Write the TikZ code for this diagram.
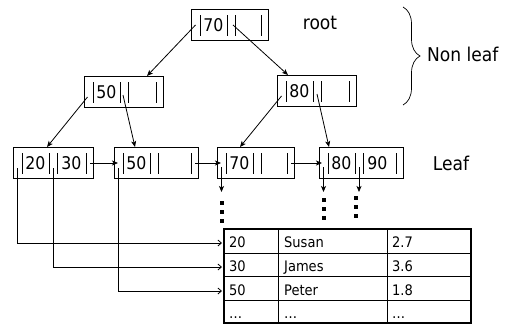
\documentclass[tikz,border=0pt]{standalone}
\usepackage{fontspec}
\setmainfont{DejaVu Sans Condensed}
\usetikzlibrary{arrows.meta,decorations.pathreplacing,calc}
\tikzset{
  bbox/.style={draw, line width=0.9pt, inner sep=0pt, anchor=north west, minimum height=31pt},
  bar/.style={line width=1.0pt},
  keytext/.style={inner sep=0pt, font=\fontsize{17.5}{19}\selectfont},
  lbl/.style={inner sep=0pt, font=\fontsize{19}{21}\selectfont},
  cell/.style={inner sep=0pt, anchor=base west, font=\fontsize{14.5}{16}\selectfont},
  ptr/.style={line width=0.8pt, -{Stealth[length=6pt,width=5pt,inset=1.5pt]}},
  rec/.style={line width=0.8pt, -{Straight Barb[length=3.5pt,width=6pt]}},
  dotsq/.style={fill=black}
}
\newcommand\bpnode[6]{%
  \node[bbox, minimum width=#4pt] (#1) at (#2,#3) {};
  \foreach \bb in {9,36,44} \draw[bar] ($(#1.north west)+(\bb,6)$) -- ++(0,21);
  \draw[bar] ($(#1.north east)+(-7,6)$) -- ++(0,21);
  \node[keytext] (#1-k1) at ($(#1.north west)+(22.5,16)$) {#5};
  \node[keytext] (#1-k2) at ($(#1.north west)+(58.5,16)$) {#6};
  \coordinate (#1-p0) at ($(#1.north west)+(4.5,16)$);
  \coordinate (#1-p1) at ($(#1.north west)+(40,16)$);
  \coordinate (#1-p2) at ($(#1.north east)+(-3.5,16)$);
}
\begin{document}
\begin{tikzpicture}[x=1pt,y=-1pt]
\useasboundingbox (0,0) rectangle (509,324);

% tree nodes
\bpnode{root}{191}{9}{77}{70}{}
\bpnode{n50}{84}{76}{79}{50}{}
\bpnode{n80}{277}{75}{79}{80}{}
\bpnode{L1}{13}{147}{80}{20}{30}
\bpnode{L2}{114}{147}{84}{50}{}
\bpnode{L3}{217}{147}{77}{70}{}
\bpnode{L4}{319}{147}{84}{80}{90}

% labels
\node[lbl] (lroot) at (320,23) {root};
\node[lbl, anchor=west] (lnon) at (427,54) {Non leaf};
\node[lbl] (lleaf) at (451,163) {Leaf};
\draw[line width=0.7pt, decorate, decoration={brace, amplitude=17pt}] (403,7) -- (403,105);

% tree pointers
\draw[ptr] (root-p0) -- ($(n50.north west)+(63,0)$);
\draw[ptr] ($(root-p1)+(2,0)$) -- ($(n80.north west)+(11,0)$);
\draw[ptr] ($(n50-p0)+(-1,5)$) -- ($(L1.north west)+(34,0)$);
\draw[ptr] ($(n50-p1)+(-1,3)$) -- ($(L2.north west)+(21,0)$);
\draw[ptr] ($(n80-p0)+(0,5)$) -- ($(L3.north west)+(23,0)$);
\draw[ptr] ($(n80-p1)+(0,3)$) -- ($(L4.north west)+(10,0)$);

% leaf chain
\draw[ptr] (L1-p2) -- ($(L2.north west)+(4,16)$);
\draw[ptr] (L2-p2) -- ($(L3.north west)+(4,16)$);
\draw[ptr] (L3-p2) -- ($(L4.north west)+(3,16)$);

% leaf down pointers
\draw[ptr] ($(L3-p0)+(0,4)$) -- ++(0,25);
\draw[ptr] ($(L4-p0)+(0,4)$) -- ++(0,25);
\draw[ptr] ($(L4-p1)+(0,4)$) -- ++(0,25);

% dots
\foreach \yy in {0,9,18} {
  \fill[dotsq] ($(L3-p0)+(-2,38+\yy)$) rectangle ++(4,4);
  \fill[dotsq] ($(L4-p0)+(-2,35+\yy)$) rectangle ++(4,4);
  \fill[dotsq] ($(L4-p1)+(-5,33+\yy)$) rectangle ++(4,4);
}

% table
\node[draw, line width=1.6pt, inner sep=0pt, anchor=north west, minimum width=247pt, minimum height=94pt] (tbl) at (223,228) {};
\foreach \ry in {25,48,72} \draw[line width=0.8pt] ($(tbl.north west)+(0,\ry)$) -- ($(tbl.north east)+(0,\ry)$);
\foreach \cx in {55,164} \draw[line width=0.8pt] ($(tbl.north west)+(\cx,0)$) -- ($(tbl.south west)+(\cx,0)$);

\node[cell] (c11) at ($(tbl.north west)+(6,19)$) {20};
\node[cell] (c12) at ($(tbl.north west)+(61,19)$) {Susan};
\node[cell] (c13) at ($(tbl.north west)+(169,19)$) {2.7};
\node[cell] (c21) at ($(tbl.north west)+(6,43)$) {30};
\node[cell] (c22) at ($(tbl.north west)+(61,43)$) {James};
\node[cell] (c23) at ($(tbl.north west)+(169,43)$) {3.6};
\node[cell] (c31) at ($(tbl.north west)+(6,67)$) {50};
\node[cell] (c32) at ($(tbl.north west)+(61,67)$) {Peter};
\node[cell] (c33) at ($(tbl.north west)+(169,67)$) {1.8};
\node[cell] (c41) at ($(tbl.north west)+(6,90)$) {…};
\node[cell] (c42) at ($(tbl.north west)+(61,90)$) {…};
\node[cell] (c43) at ($(tbl.north west)+(169,90)$) {…};

% record pointers
\coordinate (t1) at ($(tbl.north west)+(-1,15)$);
\coordinate (t2) at ($(tbl.north west)+(-1,39)$);
\coordinate (t3) at ($(tbl.north west)+(-1,63)$);
\draw[rec] ($(L1-p0)+(0,5)$) |- (t1);
\draw[rec] ($(L1-p1)+(0,5)$) |- (t2);
\draw[rec] ($(L2-p0)+(0,5)$) |- (t3);

\end{tikzpicture}
\end{document}
